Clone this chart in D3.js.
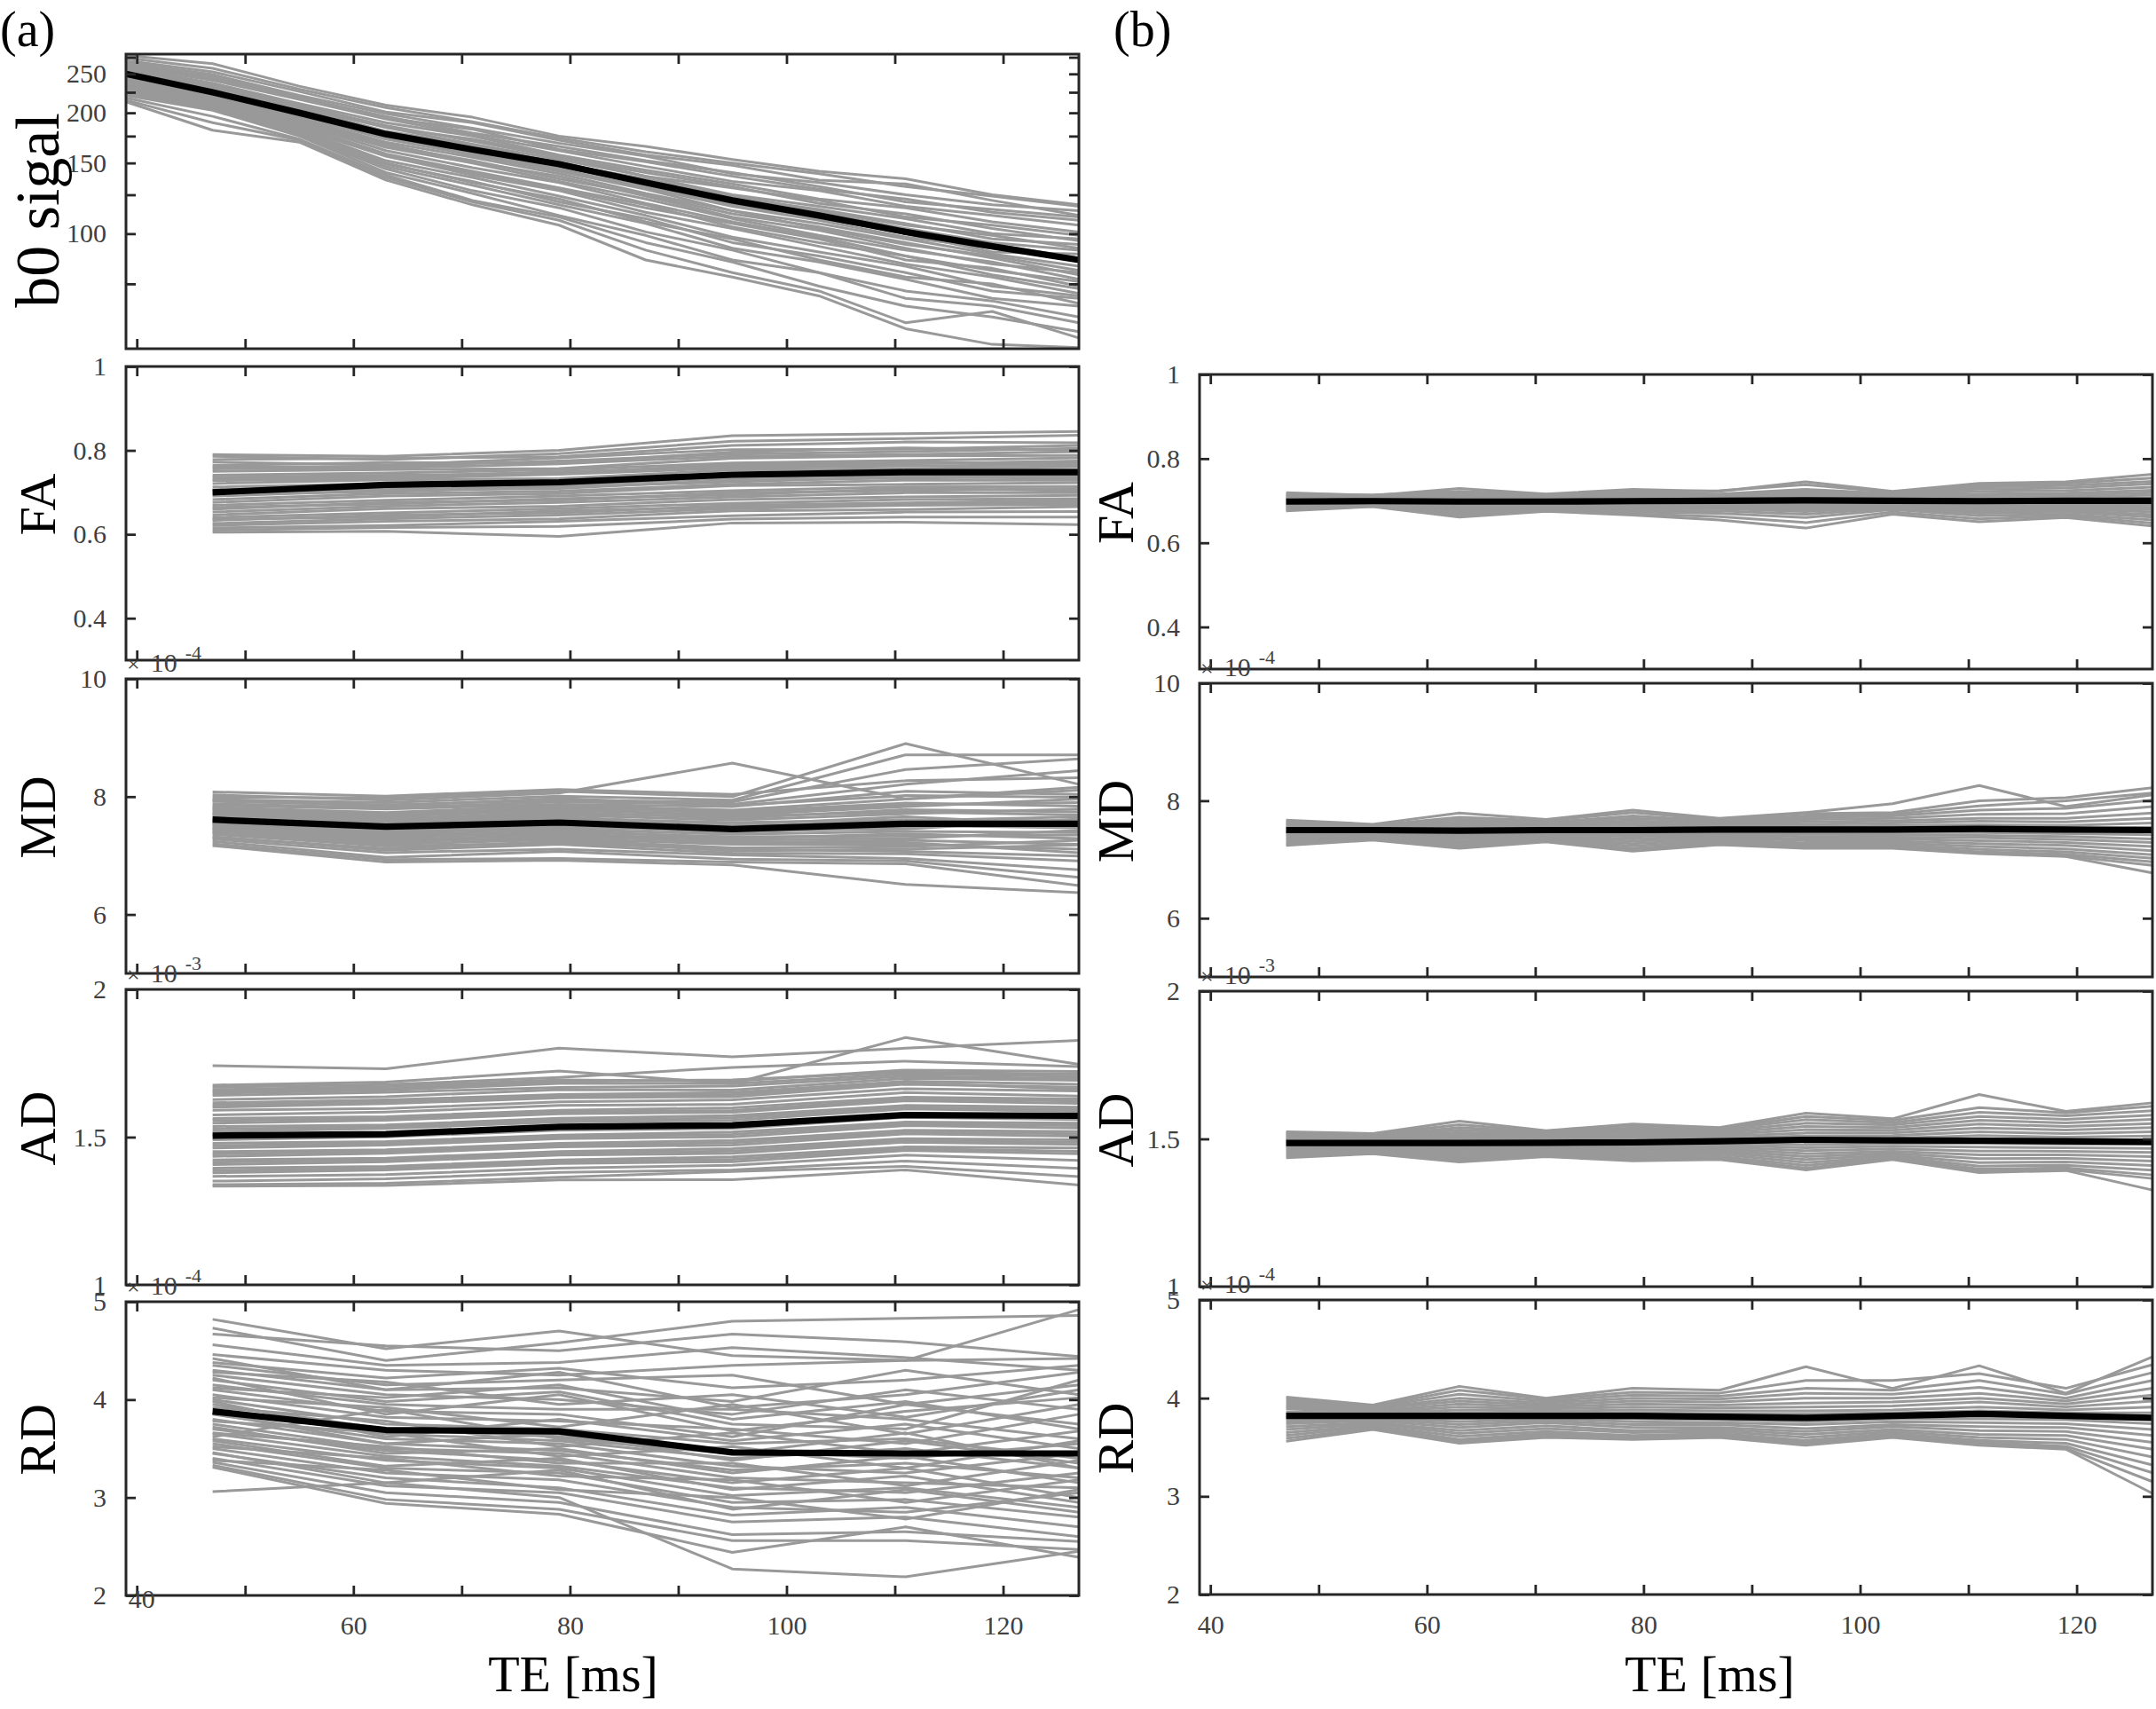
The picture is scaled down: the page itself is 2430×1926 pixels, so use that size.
<!DOCTYPE html>
<html>
<head>
<meta charset="utf-8">
<script src="https://cdn.jsdelivr.net/npm/d3@7"></script>
<style>
  body { margin: 0; background: #fff; }
  svg { display: block; }
  text { font-family: "Liberation Serif", "Times New Roman", serif; }
</style>
</head>
<body>
<svg id="chart" width="2430" height="1926"></svg>
<script>
// echo times (ms)
const teB0 = [39, 47, 55, 63, 71, 79, 87, 95, 103, 111, 119, 127];
const teA = [47, 63, 79, 95, 111, 127];
const teB = [47, 55, 63, 71, 79, 87, 95, 103, 111, 119, 127];
const teDomain = [39, 127];
const teTicks = [40, 50, 60, 70, 80, 90, 100, 110, 120];
const teTickLabels = [40, 60, 80, 100, 120];

// (a) b0 signal, per subject + mean
const b0Mean = [250, 225, 200, 177, 162, 149, 134, 121, 111, 101, 93, 86];
const b0Subjects = [
  [278, 265, 233, 209, 195, 175, 165, 153, 143, 137, 125, 118],
  [274, 258, 229, 206, 190, 173, 160, 150, 141, 131, 124, 117],
  [270, 253, 226, 201, 189, 171, 157, 148, 136, 133, 121, 111],
  [267, 249, 221, 199, 183, 168, 156, 141, 134, 125, 118, 114],
  [264, 246, 219, 194, 182, 162, 151, 139, 129, 122, 113, 108],
  [262, 243, 218, 196, 178, 165, 152, 142, 131, 120, 115, 110],
  [261, 241, 216, 193, 176, 161, 147, 135, 128, 117, 111, 105],
  [259, 237, 211, 189, 175, 157, 144, 133, 122, 116, 107, 101],
  [256, 234, 210, 184, 172, 156, 139, 130, 121, 110, 105, 99],
  [255, 232, 208, 186, 170, 155, 142, 131, 119, 112, 103, 96],
  [254, 231, 206, 184, 167, 153, 139, 125, 117, 109, 100, 97],
  [252, 229, 205, 180, 166, 150, 136, 124, 114, 105, 99, 92],
  [250, 226, 203, 179, 163, 151, 134, 121, 113, 103, 95, 91],
  [249, 227, 202, 178, 164, 149, 137, 123, 115, 106, 97, 94],
  [248, 225, 200, 176, 162, 147, 133, 120, 109, 101, 94, 87],
  [246, 222, 199, 173, 160, 145, 130, 117, 108, 98, 92, 86],
  [245, 221, 197, 174, 158, 144, 131, 118, 110, 100, 90, 89],
  [244, 220, 196, 172, 157, 143, 129, 114, 106, 97, 89, 83],
  [242, 218, 194, 169, 155, 141, 126, 114, 103, 94, 88, 81],
  [240, 215, 192, 167, 151, 139, 124, 110, 102, 92, 84, 80],
  [239, 216, 191, 166, 152, 137, 125, 112, 104, 95, 87, 79],
  [238, 214, 189, 164, 150, 135, 122, 109, 99, 91, 85, 77],
  [236, 212, 188, 161, 146, 134, 119, 107, 98, 88, 81, 76],
  [234, 210, 186, 158, 143, 130, 118, 104, 95, 88, 79, 73],
  [233, 211, 185, 157, 142, 129, 116, 106, 97, 86, 82, 74],
  [232, 209, 183, 156, 140, 128, 113, 103, 93, 84, 78, 71],
  [230, 208, 182, 152, 138, 124, 111, 98, 90, 83, 74, 70],
  [228, 206, 180, 150, 134, 122, 107, 97, 86, 78, 75, 67],
  [227, 207, 179, 149, 135, 120, 109, 95, 88, 80, 72, 69],
  [226, 206, 177, 147, 132, 118, 106, 92, 85, 77, 69, 66],
  [224, 204, 176, 145, 128, 116, 101, 91, 80, 72, 68, 62],
  [221, 203, 175, 142, 126, 111, 99, 86, 80, 69, 66, 60],
  [218, 196, 172, 140, 121, 110, 95, 85, 74, 66, 62, 57],
  [215, 189, 171, 138, 120, 108, 91, 80, 72, 60, 64, 55],
  [213, 181, 169, 136, 118, 105, 86, 78, 70, 58, 53, 52]
];

// (a) FA
const faMeanA = [0.700, 0.718, 0.724, 0.742, 0.748, 0.748];
const faSubjectsA = [
  [0.790, 0.786, 0.800, 0.835, 0.840, 0.845],
  [0.786, 0.778, 0.792, 0.822, 0.828, 0.836],
  [0.778, 0.781, 0.785, 0.812, 0.820, 0.818],
  [0.772, 0.765, 0.782, 0.802, 0.803, 0.812],
  [0.764, 0.771, 0.770, 0.796, 0.806, 0.800],
  [0.760, 0.762, 0.775, 0.791, 0.797, 0.805],
  [0.756, 0.758, 0.768, 0.786, 0.790, 0.797],
  [0.750, 0.754, 0.757, 0.781, 0.787, 0.788],
  [0.741, 0.746, 0.754, 0.770, 0.776, 0.782],
  [0.736, 0.741, 0.744, 0.767, 0.771, 0.770],
  [0.731, 0.738, 0.749, 0.762, 0.768, 0.775],
  [0.728, 0.733, 0.743, 0.758, 0.763, 0.766],
  [0.721, 0.730, 0.733, 0.753, 0.757, 0.761],
  [0.713, 0.721, 0.731, 0.744, 0.753, 0.754],
  [0.706, 0.717, 0.721, 0.741, 0.744, 0.749],
  [0.699, 0.709, 0.717, 0.734, 0.741, 0.741],
  [0.695, 0.702, 0.713, 0.725, 0.737, 0.733],
  [0.691, 0.705, 0.709, 0.729, 0.734, 0.737],
  [0.683, 0.697, 0.703, 0.719, 0.729, 0.729],
  [0.676, 0.691, 0.697, 0.716, 0.719, 0.723],
  [0.669, 0.681, 0.691, 0.704, 0.713, 0.714],
  [0.664, 0.672, 0.685, 0.694, 0.709, 0.704],
  [0.660, 0.676, 0.681, 0.699, 0.704, 0.709],
  [0.653, 0.667, 0.676, 0.689, 0.699, 0.699],
  [0.646, 0.661, 0.667, 0.683, 0.689, 0.693],
  [0.640, 0.651, 0.661, 0.674, 0.683, 0.685],
  [0.636, 0.641, 0.656, 0.665, 0.672, 0.676],
  [0.633, 0.646, 0.651, 0.669, 0.675, 0.681],
  [0.626, 0.637, 0.646, 0.661, 0.669, 0.671],
  [0.621, 0.631, 0.637, 0.656, 0.659, 0.666],
  [0.615, 0.621, 0.631, 0.644, 0.653, 0.654],
  [0.610, 0.616, 0.619, 0.636, 0.641, 0.641],
  [0.605, 0.607, 0.595, 0.627, 0.629, 0.623]
];

// (a) MD, x1e-4
const mdMeanA = [7.61, 7.49, 7.56, 7.45, 7.54, 7.54];
const mdSubjectsA = [
  [8.08, 8.01, 8.12, 8.04, 8.27, 8.32],
  [8.03, 7.94, 8.06, 8.57, 7.96, 8.11],
  [7.99, 7.98, 8.09, 8.00, 8.90, 8.21],
  [7.95, 7.90, 8.01, 7.94, 8.71, 8.71],
  [7.94, 7.84, 7.97, 7.85, 8.02, 7.99],
  [7.92, 7.86, 7.94, 7.91, 8.46, 8.64],
  [7.88, 7.81, 7.91, 7.87, 8.21, 8.44],
  [7.85, 7.79, 7.87, 7.83, 8.09, 8.04],
  [7.82, 7.73, 7.85, 7.77, 7.96, 8.16],
  [7.80, 7.68, 7.82, 7.72, 7.86, 7.90],
  [7.79, 7.71, 7.79, 7.75, 7.89, 7.84],
  [7.76, 7.66, 7.77, 7.69, 7.83, 7.96],
  [7.73, 7.63, 7.71, 7.67, 7.74, 7.69],
  [7.71, 7.61, 7.74, 7.63, 7.78, 7.74],
  [7.70, 7.58, 7.69, 7.60, 7.71, 7.79],
  [7.67, 7.56, 7.63, 7.56, 7.61, 7.59],
  [7.64, 7.51, 7.61, 7.49, 7.59, 7.66],
  [7.62, 7.53, 7.66, 7.52, 7.66, 7.52],
  [7.60, 7.49, 7.54, 7.47, 7.51, 7.47],
  [7.57, 7.43, 7.51, 7.39, 7.49, 7.56],
  [7.54, 7.41, 7.45, 7.36, 7.41, 7.39],
  [7.53, 7.38, 7.48, 7.42, 7.45, 7.62],
  [7.51, 7.35, 7.43, 7.29, 7.37, 7.29],
  [7.48, 7.33, 7.37, 7.27, 7.29, 7.43],
  [7.46, 7.30, 7.40, 7.32, 7.33, 7.35],
  [7.45, 7.27, 7.35, 7.21, 7.26, 7.19],
  [7.42, 7.25, 7.29, 7.19, 7.19, 7.11],
  [7.40, 7.22, 7.32, 7.24, 7.22, 7.05],
  [7.39, 7.19, 7.27, 7.13, 7.15, 7.26],
  [7.36, 7.16, 7.21, 7.11, 7.07, 6.99],
  [7.32, 7.09, 7.19, 7.04, 7.03, 6.91],
  [7.31, 7.12, 7.24, 7.08, 7.11, 7.18],
  [7.28, 7.05, 7.11, 7.01, 6.95, 6.76],
  [7.24, 6.97, 7.07, 6.94, 6.91, 6.63],
  [7.20, 6.93, 6.95, 6.89, 6.86, 6.49],
  [7.17, 6.89, 6.92, 6.84, 6.51, 6.37]
];

// (a) AD, x1e-3
const adMeanA = [1.505, 1.510, 1.535, 1.540, 1.575, 1.572];
const adSubjectsA = [
  [1.742, 1.731, 1.801, 1.772, 1.801, 1.827],
  [1.676, 1.686, 1.724, 1.681, 1.837, 1.746],
  [1.669, 1.678, 1.702, 1.736, 1.757, 1.739],
  [1.661, 1.671, 1.694, 1.689, 1.727, 1.722],
  [1.655, 1.664, 1.688, 1.694, 1.720, 1.713],
  [1.649, 1.659, 1.682, 1.681, 1.714, 1.706],
  [1.641, 1.652, 1.668, 1.673, 1.706, 1.698],
  [1.627, 1.637, 1.661, 1.659, 1.699, 1.692],
  [1.616, 1.626, 1.644, 1.651, 1.689, 1.679],
  [1.608, 1.619, 1.640, 1.644, 1.684, 1.662],
  [1.601, 1.613, 1.633, 1.637, 1.679, 1.669],
  [1.591, 1.597, 1.619, 1.626, 1.664, 1.656],
  [1.575, 1.585, 1.607, 1.611, 1.651, 1.639],
  [1.563, 1.569, 1.591, 1.599, 1.635, 1.629],
  [1.556, 1.563, 1.585, 1.590, 1.629, 1.622],
  [1.547, 1.557, 1.579, 1.584, 1.623, 1.614],
  [1.536, 1.541, 1.564, 1.573, 1.607, 1.601],
  [1.527, 1.535, 1.557, 1.565, 1.600, 1.594],
  [1.519, 1.529, 1.551, 1.557, 1.595, 1.587],
  [1.507, 1.513, 1.535, 1.545, 1.579, 1.576],
  [1.491, 1.501, 1.523, 1.529, 1.567, 1.559],
  [1.479, 1.485, 1.507, 1.517, 1.551, 1.547],
  [1.471, 1.479, 1.501, 1.509, 1.545, 1.539],
  [1.463, 1.473, 1.495, 1.501, 1.539, 1.531],
  [1.451, 1.457, 1.479, 1.489, 1.523, 1.519],
  [1.443, 1.451, 1.473, 1.481, 1.517, 1.511],
  [1.435, 1.445, 1.467, 1.473, 1.511, 1.503],
  [1.423, 1.429, 1.451, 1.461, 1.495, 1.491],
  [1.415, 1.423, 1.445, 1.453, 1.489, 1.483],
  [1.407, 1.417, 1.439, 1.445, 1.483, 1.475],
  [1.395, 1.401, 1.423, 1.433, 1.467, 1.463],
  [1.387, 1.395, 1.417, 1.425, 1.461, 1.452],
  [1.379, 1.389, 1.411, 1.417, 1.455, 1.444],
  [1.367, 1.373, 1.395, 1.405, 1.439, 1.421],
  [1.351, 1.359, 1.381, 1.389, 1.419, 1.394],
  [1.339, 1.344, 1.364, 1.384, 1.401, 1.366],
  [1.334, 1.336, 1.355, 1.356, 1.389, 1.338]
];

// (a) RD, x1e-4
const rdMeanA = [3.88, 3.69, 3.675, 3.46, 3.45, 3.45];
const rdSubjectsA = [
  [4.82, 4.52, 4.70, 4.45, 4.40, 4.92],
  [4.73, 4.40, 4.58, 4.80, 4.83, 4.86],
  [4.67, 4.55, 4.50, 4.67, 4.59, 4.44],
  [4.56, 4.35, 4.38, 4.53, 4.43, 4.30],
  [4.46, 4.30, 4.25, 4.35, 4.40, 4.42],
  [4.42, 4.10, 4.28, 3.92, 4.05, 4.28],
  [4.38, 4.22, 4.32, 4.12, 4.20, 4.35],
  [4.35, 4.15, 4.20, 4.25, 3.95, 4.15],
  [4.30, 4.10, 4.12, 3.98, 4.30, 4.05],
  [4.28, 4.18, 3.95, 4.05, 3.82, 4.10],
  [4.25, 4.05, 4.00, 3.85, 4.10, 3.90],
  [4.22, 3.85, 4.05, 3.68, 3.88, 4.02],
  [4.20, 3.98, 4.08, 3.75, 3.70, 4.20],
  [4.15, 3.95, 3.90, 3.90, 3.80, 3.60],
  [4.12, 4.02, 4.15, 3.80, 3.98, 3.70],
  [4.10, 3.88, 3.85, 3.62, 3.95, 3.75],
  [4.05, 3.82, 3.78, 3.70, 3.55, 3.85],
  [4.02, 3.92, 3.72, 3.95, 3.65, 3.95],
  [4.00, 3.75, 3.70, 3.55, 3.60, 3.40],
  [3.98, 3.62, 3.80, 3.58, 3.75, 3.50],
  [3.95, 3.70, 3.62, 3.48, 3.40, 3.55],
  [3.92, 3.78, 3.52, 3.66, 3.45, 3.68],
  [3.90, 3.65, 3.58, 3.40, 3.50, 3.30],
  [3.86, 3.55, 3.65, 3.38, 3.58, 3.35],
  [3.85, 3.60, 3.55, 3.32, 3.25, 3.45],
  [3.80, 3.55, 3.48, 3.28, 3.35, 3.20],
  [3.78, 3.66, 3.42, 3.52, 3.30, 3.58],
  [3.75, 3.50, 3.45, 3.20, 3.15, 3.10],
  [3.72, 3.45, 3.50, 3.25, 3.42, 3.15],
  [3.70, 3.48, 3.38, 3.15, 3.30, 3.00],
  [3.66, 3.52, 3.35, 3.35, 3.12, 3.38],
  [3.65, 3.42, 3.32, 3.10, 3.05, 3.25],
  [3.62, 3.90, 3.60, 3.45, 3.66, 3.30],
  [3.60, 3.38, 3.30, 3.02, 3.10, 2.90],
  [3.58, 3.32, 3.40, 3.08, 3.22, 2.95],
  [3.55, 3.30, 3.25, 2.95, 2.98, 2.80],
  [3.52, 3.40, 3.22, 3.18, 2.95, 3.18],
  [3.50, 3.25, 3.18, 2.90, 2.85, 3.05],
  [3.46, 3.15, 3.28, 2.88, 3.08, 2.85],
  [3.45, 3.20, 3.10, 2.82, 2.90, 2.70],
  [3.40, 3.12, 3.05, 2.75, 2.80, 2.60],
  [3.38, 3.28, 3.08, 3.00, 2.78, 3.08],
  [3.36, 3.05, 2.95, 2.62, 2.65, 2.55],
  [3.33, 2.98, 2.88, 2.56, 2.56, 2.47],
  [3.31, 2.94, 2.83, 2.44, 2.70, 2.39],
  [3.06, 3.15, 3.00, 2.27, 2.19, 2.45]
];

// (b) FA
const faMeanB = [0.698, 0.699, 0.698, 0.698, 0.699, 0.700, 0.701, 0.700, 0.699, 0.700, 0.700];
const faSubjectsB = [
  [0.719, 0.712, 0.729, 0.716, 0.727, 0.722, 0.745, 0.722, 0.741, 0.745, 0.763],
  [0.716, 0.714, 0.722, 0.715, 0.721, 0.724, 0.738, 0.720, 0.737, 0.741, 0.754],
  [0.713, 0.709, 0.718, 0.711, 0.719, 0.716, 0.727, 0.717, 0.733, 0.736, 0.746],
  [0.711, 0.707, 0.714, 0.712, 0.715, 0.714, 0.722, 0.715, 0.728, 0.730, 0.740],
  [0.709, 0.705, 0.711, 0.708, 0.712, 0.711, 0.717, 0.712, 0.722, 0.724, 0.732],
  [0.706, 0.703, 0.707, 0.706, 0.709, 0.708, 0.712, 0.710, 0.716, 0.718, 0.725],
  [0.704, 0.702, 0.705, 0.704, 0.706, 0.706, 0.709, 0.708, 0.712, 0.713, 0.719],
  [0.702, 0.701, 0.702, 0.702, 0.703, 0.704, 0.705, 0.705, 0.707, 0.709, 0.713],
  [0.700, 0.700, 0.700, 0.701, 0.701, 0.702, 0.702, 0.703, 0.703, 0.704, 0.707],
  [0.698, 0.699, 0.697, 0.699, 0.698, 0.699, 0.699, 0.700, 0.699, 0.700, 0.701],
  [0.696, 0.698, 0.694, 0.697, 0.696, 0.697, 0.696, 0.698, 0.696, 0.696, 0.695],
  [0.694, 0.697, 0.691, 0.695, 0.693, 0.694, 0.692, 0.695, 0.692, 0.692, 0.690],
  [0.692, 0.695, 0.688, 0.693, 0.690, 0.691, 0.688, 0.693, 0.688, 0.688, 0.684],
  [0.690, 0.694, 0.685, 0.691, 0.687, 0.688, 0.684, 0.690, 0.684, 0.685, 0.679],
  [0.688, 0.693, 0.682, 0.689, 0.684, 0.685, 0.679, 0.688, 0.680, 0.681, 0.673],
  [0.686, 0.692, 0.678, 0.686, 0.681, 0.681, 0.674, 0.685, 0.675, 0.677, 0.667],
  [0.683, 0.691, 0.674, 0.683, 0.677, 0.676, 0.668, 0.682, 0.670, 0.673, 0.661],
  [0.680, 0.689, 0.670, 0.680, 0.673, 0.670, 0.660, 0.679, 0.664, 0.668, 0.654],
  [0.678, 0.688, 0.666, 0.677, 0.669, 0.662, 0.648, 0.673, 0.657, 0.664, 0.647],
  [0.676, 0.686, 0.661, 0.675, 0.666, 0.654, 0.635, 0.668, 0.650, 0.660, 0.640]
];

// (b) MD, x1e-4
const mdMeanB = [7.50, 7.50, 7.49, 7.50, 7.50, 7.51, 7.51, 7.51, 7.52, 7.51, 7.50];
const mdSubjectsB = [
  [7.67, 7.60, 7.79, 7.68, 7.84, 7.70, 7.80, 7.95, 8.26, 7.90, 8.10],
  [7.65, 7.58, 7.72, 7.66, 7.80, 7.68, 7.78, 7.80, 8.00, 8.05, 8.22],
  [7.63, 7.57, 7.68, 7.63, 7.74, 7.66, 7.74, 7.77, 7.91, 8.00, 8.13],
  [7.61, 7.56, 7.64, 7.62, 7.70, 7.64, 7.71, 7.74, 7.84, 7.87, 8.01],
  [7.59, 7.55, 7.61, 7.59, 7.66, 7.61, 7.68, 7.70, 7.77, 7.78, 7.90],
  [7.57, 7.53, 7.58, 7.57, 7.62, 7.59, 7.64, 7.66, 7.70, 7.70, 7.79],
  [7.55, 7.52, 7.55, 7.55, 7.58, 7.57, 7.60, 7.62, 7.65, 7.64, 7.70],
  [7.53, 7.51, 7.53, 7.53, 7.55, 7.55, 7.56, 7.58, 7.59, 7.58, 7.62],
  [7.51, 7.50, 7.50, 7.51, 7.52, 7.53, 7.53, 7.54, 7.55, 7.53, 7.55],
  [7.49, 7.49, 7.47, 7.49, 7.49, 7.51, 7.49, 7.50, 7.50, 7.48, 7.48],
  [7.47, 7.48, 7.44, 7.47, 7.46, 7.49, 7.46, 7.46, 7.46, 7.44, 7.42],
  [7.45, 7.46, 7.41, 7.45, 7.42, 7.46, 7.43, 7.42, 7.41, 7.39, 7.35],
  [7.43, 7.45, 7.38, 7.43, 7.39, 7.43, 7.39, 7.38, 7.37, 7.34, 7.29],
  [7.41, 7.43, 7.35, 7.40, 7.35, 7.40, 7.35, 7.35, 7.32, 7.29, 7.22],
  [7.38, 7.42, 7.31, 7.38, 7.31, 7.37, 7.32, 7.31, 7.27, 7.24, 7.15],
  [7.35, 7.40, 7.28, 7.36, 7.27, 7.34, 7.28, 7.28, 7.22, 7.18, 7.08],
  [7.32, 7.38, 7.25, 7.34, 7.23, 7.31, 7.25, 7.25, 7.17, 7.13, 7.02],
  [7.29, 7.36, 7.22, 7.32, 7.19, 7.28, 7.22, 7.22, 7.13, 7.09, 6.96],
  [7.26, 7.34, 7.20, 7.31, 7.16, 7.26, 7.20, 7.20, 7.11, 7.06, 6.90],
  [7.24, 7.33, 7.19, 7.30, 7.14, 7.25, 7.19, 7.19, 7.10, 7.05, 6.77]
];

// (b) AD, x1e-3
const adMeanB = [1.486, 1.486, 1.486, 1.487, 1.488, 1.492, 1.497, 1.495, 1.494, 1.492, 1.490];
const adSubjectsB = [
  [1.524, 1.518, 1.560, 1.528, 1.550, 1.538, 1.587, 1.568, 1.650, 1.593, 1.622],
  [1.520, 1.516, 1.548, 1.526, 1.545, 1.536, 1.576, 1.562, 1.606, 1.588, 1.610],
  [1.516, 1.513, 1.538, 1.523, 1.537, 1.532, 1.565, 1.555, 1.590, 1.578, 1.595],
  [1.512, 1.510, 1.530, 1.519, 1.530, 1.527, 1.553, 1.547, 1.576, 1.566, 1.580],
  [1.508, 1.507, 1.522, 1.515, 1.523, 1.521, 1.542, 1.538, 1.563, 1.554, 1.566],
  [1.504, 1.504, 1.514, 1.510, 1.516, 1.515, 1.531, 1.529, 1.550, 1.542, 1.552],
  [1.500, 1.501, 1.507, 1.505, 1.509, 1.509, 1.520, 1.520, 1.537, 1.530, 1.538],
  [1.496, 1.498, 1.500, 1.500, 1.502, 1.503, 1.510, 1.511, 1.524, 1.518, 1.524],
  [1.492, 1.494, 1.493, 1.495, 1.495, 1.497, 1.500, 1.502, 1.511, 1.506, 1.510],
  [1.488, 1.490, 1.486, 1.490, 1.488, 1.491, 1.490, 1.493, 1.498, 1.494, 1.496],
  [1.484, 1.486, 1.479, 1.485, 1.481, 1.485, 1.480, 1.484, 1.485, 1.482, 1.482],
  [1.480, 1.482, 1.472, 1.480, 1.474, 1.479, 1.470, 1.475, 1.472, 1.470, 1.468],
  [1.476, 1.478, 1.465, 1.475, 1.467, 1.473, 1.460, 1.466, 1.459, 1.458, 1.454],
  [1.471, 1.474, 1.458, 1.470, 1.460, 1.467, 1.450, 1.458, 1.446, 1.446, 1.440],
  [1.466, 1.470, 1.451, 1.465, 1.453, 1.461, 1.440, 1.451, 1.433, 1.434, 1.425],
  [1.460, 1.466, 1.444, 1.460, 1.446, 1.455, 1.430, 1.445, 1.420, 1.422, 1.410],
  [1.454, 1.462, 1.437, 1.455, 1.440, 1.448, 1.420, 1.440, 1.408, 1.411, 1.394],
  [1.448, 1.458, 1.431, 1.450, 1.434, 1.441, 1.410, 1.436, 1.398, 1.402, 1.378],
  [1.442, 1.454, 1.426, 1.445, 1.429, 1.435, 1.401, 1.432, 1.391, 1.396, 1.366],
  [1.436, 1.450, 1.422, 1.440, 1.426, 1.430, 1.395, 1.430, 1.386, 1.393, 1.327]
];

// (b) RD, x1e-4
const rdMeanB = [3.82, 3.82, 3.82, 3.82, 3.82, 3.81, 3.80, 3.82, 3.84, 3.82, 3.80];
const rdSubjectsB = [
  [4.01, 3.93, 4.12, 4.00, 4.10, 4.08, 4.32, 4.10, 4.33, 4.05, 4.42],
  [3.99, 3.92, 4.08, 3.99, 4.06, 4.05, 4.18, 4.18, 4.25, 4.10, 4.34],
  [3.97, 3.91, 4.04, 3.97, 4.03, 4.02, 4.10, 4.08, 4.18, 4.04, 4.26],
  [3.95, 3.90, 4.00, 3.95, 4.00, 3.99, 4.05, 4.04, 4.11, 4.00, 4.18],
  [3.93, 3.89, 3.97, 3.93, 3.97, 3.96, 4.00, 4.00, 4.05, 3.97, 4.10],
  [3.91, 3.87, 3.94, 3.91, 3.94, 3.93, 3.95, 3.96, 4.00, 3.94, 4.03],
  [3.89, 3.86, 3.91, 3.89, 3.91, 3.90, 3.91, 3.92, 3.96, 3.91, 3.97],
  [3.86, 3.85, 3.88, 3.87, 3.88, 3.87, 3.87, 3.88, 3.91, 3.88, 3.91],
  [3.84, 3.84, 3.85, 3.85, 3.85, 3.84, 3.84, 3.85, 3.87, 3.85, 3.85],
  [3.82, 3.83, 3.82, 3.83, 3.82, 3.81, 3.80, 3.82, 3.83, 3.82, 3.80],
  [3.80, 3.81, 3.79, 3.81, 3.79, 3.78, 3.76, 3.79, 3.79, 3.78, 3.74],
  [3.78, 3.80, 3.76, 3.79, 3.76, 3.75, 3.73, 3.76, 3.75, 3.74, 3.68],
  [3.76, 3.79, 3.73, 3.77, 3.73, 3.73, 3.69, 3.73, 3.71, 3.70, 3.62],
  [3.74, 3.77, 3.70, 3.75, 3.70, 3.70, 3.66, 3.71, 3.67, 3.66, 3.55],
  [3.71, 3.75, 3.67, 3.72, 3.67, 3.68, 3.63, 3.68, 3.63, 3.62, 3.48],
  [3.68, 3.74, 3.64, 3.69, 3.65, 3.66, 3.60, 3.66, 3.60, 3.58, 3.40],
  [3.65, 3.72, 3.61, 3.66, 3.62, 3.64, 3.57, 3.64, 3.57, 3.54, 3.32],
  [3.62, 3.71, 3.58, 3.64, 3.60, 3.62, 3.55, 3.62, 3.55, 3.51, 3.24],
  [3.59, 3.69, 3.56, 3.62, 3.59, 3.61, 3.53, 3.61, 3.53, 3.49, 3.15],
  [3.56, 3.68, 3.54, 3.60, 3.58, 3.60, 3.52, 3.60, 3.52, 3.48, 3.03]
];

// y-axis ticks per metric
const b0Ticks = [75, 100, 125, 150, 175, 200, 225, 250, 275];
const b0TickLabels = [100, 150, 200, 250];
const faTicks = [0.4, 0.6, 0.8, 1];
const mdTicks = [6, 8, 10];
const adTicks = [1, 1.5, 2];
const rdTicks = [2, 3, 4, 5];

// ---- layout & style ----
const cfg = {
  colA: [142, 1216],
  colB: [1352, 2426],
  grey: "#999999",
  greyWidth: 3,
  meanWidth: 7.2,
  axisColor: "#262626",
  axisWidth: 3,
  tickLen: 11,
  tickColor: "#404040",
  tickFont: 30,
  labelFont: 58,
  serif: '"Liberation Serif", "Times New Roman", serif',
};

const svg = d3.select("#chart");

const panels = [
  { col: "A", y: [61, 393], te: teB0, mean: b0Mean, subj: b0Subjects, log: true, dom: [51.7, 280],
    ticks: b0Ticks, labels: b0TickLabels, name: "b0 sigal", nameSize: 70, nameDy: 10, nameX: 66 },
  { col: "A", y: [413, 744], te: teA, mean: faMeanA, subj: faSubjectsA, dom: [0.3, 1],
    ticks: faTicks, labels: faTicks, name: "FA" },
  { col: "A", y: [765, 1097], te: teA, mean: mdMeanA, subj: mdSubjectsA, dom: [5, 10],
    ticks: mdTicks, labels: mdTicks, name: "MD", expo: "-4" },
  { col: "A", y: [1115, 1448], te: teA, mean: adMeanA, subj: adSubjectsA, dom: [1, 2],
    ticks: adTicks, labels: adTicks, name: "AD", expo: "-3" },
  { col: "A", y: [1467, 1798], te: teA, mean: rdMeanA, subj: rdSubjectsA, dom: [2, 5],
    ticks: rdTicks, labels: rdTicks, name: "RD", expo: "-4", bottom: true },
  { col: "B", y: [422, 754], te: teB, mean: faMeanB, subj: faSubjectsB, dom: [0.3, 1],
    ticks: faTicks, labels: faTicks, name: "FA" },
  { col: "B", y: [770, 1101], te: teB, mean: mdMeanB, subj: mdSubjectsB, dom: [5, 10],
    ticks: mdTicks, labels: mdTicks, name: "MD", expo: "-4" },
  { col: "B", y: [1117, 1450], te: teB, mean: adMeanB, subj: adSubjectsB, dom: [1, 2],
    ticks: adTicks, labels: adTicks, name: "AD", expo: "-3" },
  { col: "B", y: [1465, 1797], te: teB, mean: rdMeanB, subj: rdSubjectsB, dom: [2, 5],
    ticks: rdTicks, labels: rdTicks, name: "RD", expo: "-4", bottom: true },
];

function styleAxis(g) {
  g.attr("font-family", cfg.serif).attr("font-size", cfg.tickFont);
  g.select(".domain").remove();
  g.selectAll(".tick line").attr("stroke", cfg.axisColor).attr("stroke-width", 2.8);
  g.selectAll(".tick text")
    .attr("fill", cfg.tickColor)
    .style("font-size", cfg.tickFont + "px")
    .style("font-family", cfg.serif);
}

function drawPanel(p) {
  const xr = p.col === "A" ? cfg.colA : cfg.colB;
  const x = d3.scaleLinear().domain(teDomain).range(xr);
  const y = (p.log ? d3.scaleLog() : d3.scaleLinear()).domain(p.dom).range([p.y[1], p.y[0]]);
  const line = d3.line().x((d, i) => x(p.te[i])).y(d => y(d));
  const g = svg.append("g").attr("class", "panel");

  // subject lines
  g.append("g")
    .attr("fill", "none")
    .attr("stroke", cfg.grey)
    .attr("stroke-width", cfg.greyWidth)
    .attr("stroke-linejoin", "round")
    .selectAll("path")
    .data(p.subj)
    .join("path")
      .attr("d", line);

  // group mean
  g.append("path")
    .datum(p.mean)
    .attr("fill", "none")
    .attr("stroke", "#000")
    .attr("stroke-width", cfg.meanWidth)
    .attr("stroke-linejoin", "round")
    .attr("d", line);

  // box
  g.append("rect")
    .attr("x", xr[0]).attr("y", p.y[0])
    .attr("width", xr[1] - xr[0]).attr("height", p.y[1] - p.y[0])
    .attr("fill", "none")
    .attr("stroke", cfg.axisColor)
    .attr("stroke-width", cfg.axisWidth);

  // x ticks (inward, top and bottom)
  const labelSet = new Set(teTickLabels);
  const xb = g.append("g")
    .attr("transform", `translate(0,${p.y[1]})`)
    .call(d3.axisBottom(x).tickValues(teTicks).tickSizeInner(-cfg.tickLen).tickSizeOuter(0)
      .tickPadding(23)
      .tickFormat(d => (p.bottom && labelSet.has(d)) ? d : ""))
    .call(styleAxis);
  if (p.bottom && p.col === "A") {
    // the 40 label sits raised against the lower-left corner
    xb.selectAll(".tick text").filter(d => d === 40)
      .attr("y", -7).attr("x", 5);
  }
  g.append("g")
    .attr("transform", `translate(0,${p.y[0]})`)
    .call(d3.axisTop(x).tickValues(teTicks).tickSizeInner(-cfg.tickLen).tickSizeOuter(0).tickFormat(""))
    .call(styleAxis);

  // y ticks (inward, left and right)
  const labelVals = new Set(p.labels);
  g.append("g")
    .attr("transform", `translate(${xr[0]},0)`)
    .call(d3.axisLeft(y).tickValues(p.ticks).tickSizeInner(-cfg.tickLen).tickSizeOuter(0)
      .tickPadding(22)
      .tickFormat(d => labelVals.has(d) ? String(d) : ""))
    .call(styleAxis);
  g.append("g")
    .attr("transform", `translate(${xr[1]},0)`)
    .call(d3.axisRight(y).tickValues(p.ticks).tickSizeInner(-cfg.tickLen).tickSizeOuter(0).tickFormat(""))
    .call(styleAxis);

  // y label
  const lx = p.nameX || (p.col === "A" ? 62 : 1277);
  const cy = (p.y[0] + p.y[1]) / 2 + (p.nameDy !== undefined ? p.nameDy : -10);
  svg.append("text")
    .attr("transform", `translate(${lx},${cy}) rotate(-90)`)
    .attr("text-anchor", "middle")
    .attr("fill", "#000")
    .style("font-family", cfg.serif)
    .style("font-size", (p.nameSize || cfg.labelFont) + "px")
    .text(p.name);

  // scale exponent above the panel
  if (p.expo) {
    const ex = svg.append("text")
      .attr("x", xr[0] + 1)
      .attr("y", p.y[0] - 8)
      .attr("fill", cfg.tickColor)
      .style("font-family", cfg.serif)
      .style("font-size", "30px");
    ex.append("tspan").style("font-size", "26px").text("×");
    ex.append("tspan").attr("dx", 12).text("10");
    ex.append("tspan").attr("dx", 9).attr("dy", -14).style("font-size", "22px").text(p.expo);
  }

  // x axis title under the bottom panel
  if (p.bottom) {
    svg.append("text")
      .attr("x", p.col === "A" ? 646 : 1927)
      .attr("y", 1906)
      .attr("text-anchor", "middle")
      .attr("fill", "#000")
      .style("font-family", cfg.serif)
      .style("font-size", cfg.labelFont + "px")
      .text("TE [ms]");
  }
}

panels.forEach(drawPanel);

// panel letters
svg.append("text").attr("x", 0).attr("y", 52).style("font-family", cfg.serif)
  .style("font-size", "56px").attr("fill", "#000").text("(a)");
svg.append("text").attr("x", 1255).attr("y", 52).style("font-family", cfg.serif)
  .style("font-size", "56px").attr("fill", "#000").text("(b)");
</script>
</body>
</html>
